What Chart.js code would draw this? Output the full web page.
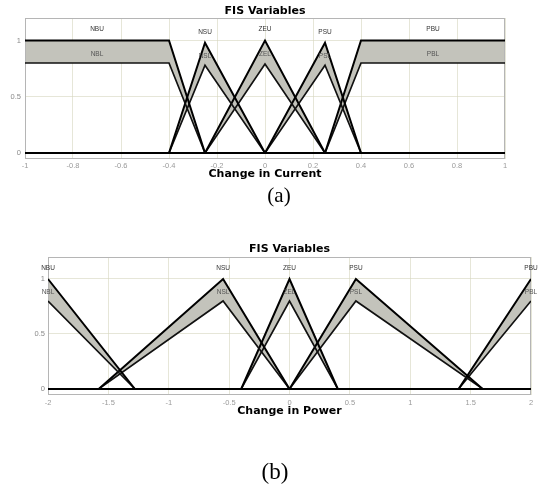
<!DOCTYPE html>
<html><head><meta charset="utf-8">
<script src="https://cdn.jsdelivr.net/npm/chart.js@4.4.1/dist/chart.umd.min.js"></script>
<style>
html,body{margin:0;padding:0;background:#fff;}
#wrap{position:relative;width:543px;height:488px;background:#fff;overflow:hidden;}
canvas{position:absolute;left:0;}
</style></head><body>
<div id="wrap">
<canvas id="ca" width="543" height="244" style="top:0px"></canvas>
<canvas id="cb" width="543" height="244" style="top:244px"></canvas>
</div>
<script>
// ---------- text ----------
const titleText = 'FIS Variables';
const currentAxisLabel = 'Change in Current';
const powerAxisLabel = 'Change in Power';
const captionA = '(a)';
const captionB = '(b)';
const mfNames = ['NB', 'NS', 'ZE', 'PS', 'PB'];

// ---------- ticks ----------
const currentXTicks = [-1, -0.8, -0.6, -0.4, -0.2, 0, 0.2, 0.4, 0.6, 0.8, 1];
const currentXTickLabels = ['-1', '-0.8', '-0.6', '-0.4', '-0.2', '0', '0.2', '0.4', '0.6', '0.8', '1'];
const powerXTicks = [-2, -1.5, -1, -0.5, 0, 0.5, 1, 1.5, 2];
const powerXTickLabels = ['-2', '-1.5', '-1', '-0.5', '0', '0.5', '1', '1.5', '2'];
const yTicks = [0, 0.5, 1];
const yTickLabels = ['0', '0.5', '1'];

// ---------- Change in Current MFs ([x, membership]) ----------
const curNB_U = [[-1, 1], [-0.4, 1], [-0.25, 0], [1, 0]];
const curNB_L = [[-1, 0.8], [-0.4, 0.8], [-0.25, 0], [1, 0]];
const curNS_U = [[-1, 0], [-0.4, 0], [-0.25, 0.98], [0, 0], [1, 0]];
const curNS_L = [[-1, 0], [-0.4, 0], [-0.25, 0.78], [0, 0], [1, 0]];
const curZE_U = [[-1, 0], [-0.25, 0], [0, 1], [0.25, 0], [1, 0]];
const curZE_L = [[-1, 0], [-0.25, 0], [0, 0.79], [0.25, 0], [1, 0]];
const curPS_U = [[-1, 0], [0, 0], [0.25, 0.98], [0.4, 0], [1, 0]];
const curPS_L = [[-1, 0], [0, 0], [0.25, 0.78], [0.4, 0], [1, 0]];
const curPB_U = [[-1, 0], [0.25, 0], [0.4, 1], [1, 1]];
const curPB_L = [[-1, 0], [0.25, 0], [0.4, 0.8], [1, 0.8]];
const curLabelX = [-0.7, -0.25, 0, 0.25, 0.7];
const curUpperLabelY = [1.1, 1.07, 1.1, 1.07, 1.1];
const curLowerLabelY = [0.88, 0.86, 0.88, 0.86, 0.88];

// ---------- Change in Power MFs ----------
const powNB_U = [[-2, 1], [-1.28, 0], [2, 0]];
const powNB_L = [[-2, 0.8], [-1.28, 0], [2, 0]];
const powNS_U = [[-2, 0], [-1.58, 0], [-0.55, 1], [0, 0], [2, 0]];
const powNS_L = [[-2, 0], [-1.58, 0], [-0.55, 0.8], [0, 0], [2, 0]];
const powZE_U = [[-2, 0], [-0.4, 0], [0, 1], [0.4, 0], [2, 0]];
const powZE_L = [[-2, 0], [-0.4, 0], [0, 0.8], [0.4, 0], [2, 0]];
const powPS_U = [[-2, 0], [0, 0], [0.55, 1], [1.6, 0], [2, 0]];
const powPS_L = [[-2, 0], [0, 0], [0.55, 0.8], [1.6, 0], [2, 0]];
const powPB_U = [[-2, 0], [1.4, 0], [2, 1]];
const powPB_L = [[-2, 0], [1.4, 0], [2, 0.8]];
const powLabelX = [-2, -0.55, 0, 0.55, 2];
const powUpperLabelY = [1.1, 1.1, 1.1, 1.1, 1.1];
const powLowerLabelY = [0.88, 0.88, 0.88, 0.88, 0.88];

// ---------- build ----------
const FOU = '#c3c3bb';
const GRID = 'rgba(214,214,190,0.6)';
const W = 543, H = 244;
const Y_MAX = 1.2;

function makeChart(id, cfg) {
  const datasets = [];
  cfg.mfs.forEach(m => {
    datasets.push({
      data: m[0].map(p => ({ x: p[0], y: p[1] })),
      borderColor: '#000', borderWidth: 2, pointRadius: 0, fill: false, tension: 0
    });
    datasets.push({
      data: m[1].map(p => ({ x: p[0], y: p[1] })),
      borderColor: '#111', borderWidth: 1.7, pointRadius: 0, tension: 0,
      fill: { target: '-1' }, backgroundColor: FOU
    });
  });
  // y minimum chosen so that the zero line lands on a whole pixel
  const plotH = cfg.bottom - cfg.top;
  const yMin = -cfg.zeroGap * Y_MAX / (plotH - cfg.zeroGap);
  const deco = {
    id: 'deco_' + id,
    beforeDatasetsDraw(chart) {
      const { ctx, chartArea: a } = chart;
      ctx.save();
      ctx.strokeStyle = '#b5b5b5';
      ctx.lineWidth = 1;
      ctx.strokeRect(a.left + 0.5, a.top + 0.5, a.width - 1, a.height - 1);
      ctx.restore();
    },
    afterDatasetsDraw(chart) {
      const { ctx, scales: { x, y } } = chart;
      ctx.save();
      ctx.textAlign = 'center';
      ctx.textBaseline = 'middle';
      ctx.font = '6.5px "Liberation Sans", Arial, sans-serif';
      mfNames.forEach((n, i) => {
        ctx.fillStyle = '#333';
        ctx.fillText(n + 'U', x.getPixelForValue(cfg.labelX[i]), y.getPixelForValue(cfg.upperY[i]));
        ctx.fillStyle = '#555';
        ctx.fillText(n + 'L', x.getPixelForValue(cfg.labelX[i]), y.getPixelForValue(cfg.lowerY[i]));
      });
      ctx.restore();
    },
    afterDraw(chart) {
      const { ctx, chartArea: a } = chart;
      const cx = (a.left + a.right) / 2;
      ctx.save();
      ctx.fillStyle = '#000';
      ctx.textAlign = 'center';
      ctx.textBaseline = 'middle';
      ctx.font = 'bold 11px "DejaVu Sans", Verdana, sans-serif';
      ctx.fillText(titleText, cx, cfg.titleY);
      ctx.fillText(cfg.xLabel, cx, cfg.xLabelY);
      ctx.font = cfg.capSize + 'px "Liberation Serif", "Times New Roman", serif';
      ctx.fillText(cfg.caption, cfg.capX, cfg.capY);
      ctx.restore();
    }
  };
  return new Chart(document.getElementById(id), {
    type: 'line',
    data: { datasets },
    plugins: [deco],
    options: {
      responsive: false, animation: false, devicePixelRatio: 1,
      layout: { padding: { left: 0, top: cfg.top, right: W - cfg.right, bottom: 0 } },
      plugins: {
        legend: { display: false }, title: { display: false }, tooltip: { enabled: false },
        filler: { drawTime: 'beforeDatasetsDraw', propagate: false }
      },
      elements: { line: { borderJoinStyle: 'miter', borderCapStyle: 'butt' } },
      scales: {
        x: {
          type: 'linear', min: cfg.xmin, max: cfg.xmax,
          afterBuildTicks: s => { s.ticks = cfg.xTicks.map(v => ({ value: v })); },
          afterFit: s => { s.height = H - cfg.bottom; s.paddingLeft = 0; s.paddingRight = 0; },
          ticks: {
            padding: cfg.xPad, color: '#9a9a9a', autoSkip: false, maxRotation: 0,
            font: { family: '"Liberation Sans", Arial, sans-serif', size: 7.5 },
            callback: (v, i) => cfg.xTickLabels[i]
          },
          grid: { color: GRID, drawTicks: false, lineWidth: 1 },
          border: { display: false }
        },
        y: {
          min: yMin, max: Y_MAX,
          afterBuildTicks: s => { s.ticks = yTicks.map(v => ({ value: v })); },
          afterFit: s => { s.width = cfg.left; s.paddingTop = 0; s.paddingBottom = 0; },
          ticks: {
            padding: cfg.yPad, color: '#8a8a8a', autoSkip: false,
            font: { family: '"Liberation Sans", Arial, sans-serif', size: 7.5 },
            callback: (v, i) => yTickLabels[i]
          },
          grid: { color: GRID, drawTicks: false, lineWidth: 1 },
          border: { display: false }
        }
      }
    }
  });
}

makeChart('ca', {
  mfs: [[curNB_U, curNB_L], [curNS_U, curNS_L], [curZE_U, curZE_L], [curPS_U, curPS_L], [curPB_U, curPB_L]],
  labelX: curLabelX, upperY: curUpperLabelY, lowerY: curLowerLabelY,
  xmin: -1, xmax: 1, xTicks: currentXTicks, xTickLabels: currentXTickLabels,
  left: 25, right: 505, top: 18, bottom: 159, zeroGap: 6, xPad: 2, yPad: 4,
  titleY: 11, xLabel: currentAxisLabel, xLabelY: 174,
  caption: captionA, capX: 279, capY: 196, capSize: 21
});
makeChart('cb', {
  mfs: [[powNB_U, powNB_L], [powNS_U, powNS_L], [powZE_U, powZE_L], [powPS_U, powPS_L], [powPB_U, powPB_L]],
  labelX: powLabelX, upperY: powUpperLabelY, lowerY: powLowerLabelY,
  xmin: -2, xmax: 2, xTicks: powerXTicks, xTickLabels: powerXTickLabels,
  left: 48, right: 531, top: 13, bottom: 151, zeroGap: 6, xPad: 3, yPad: 3,
  titleY: 5.5, xLabel: powerAxisLabel, xLabelY: 167,
  caption: captionB, capX: 275, capY: 229, capSize: 23
});
</script>
</body></html>
